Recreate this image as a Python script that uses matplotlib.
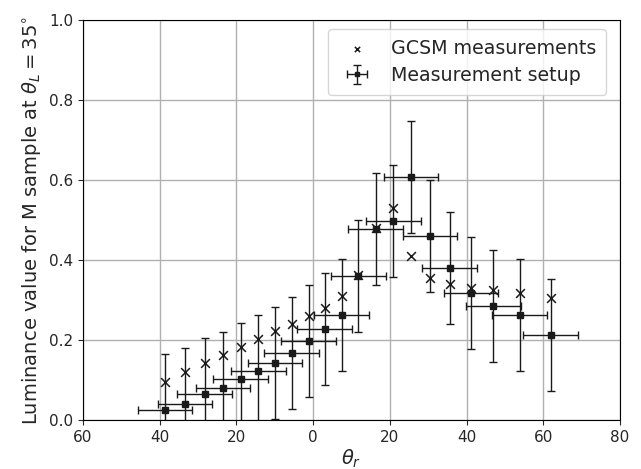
import numpy as np
import matplotlib
matplotlib.use("Agg")
import matplotlib.pyplot as plt
from matplotlib.ticker import FuncFormatter

theta_r = [-38.6, -33.4, -28.3, -23.5, -18.9, -14.3, -9.9, -5.6, -1.2, 3.0, 7.4,
           11.8, 16.3, 20.9, 25.5, 30.5, 35.6, 41.1, 47.0, 53.8, 61.9]
gcsm = [0.096, 0.120, 0.142, 0.163, 0.183, 0.203, 0.222, 0.240, 0.260, 0.281, 0.310,
        0.362, 0.479, 0.531, 0.409, 0.355, 0.340, 0.329, 0.324, 0.317, 0.304]
setup = [0.025, 0.041, 0.066, 0.079, 0.102, 0.122, 0.143, 0.167, 0.1975, 0.2275, 0.262,
         0.359, 0.477, 0.497, 0.607, 0.461, 0.380, 0.318, 0.285, 0.2625, 0.213]
x_err = 7.1
y_err = 0.14

tc = '#262626'
plt.rcParams['text.color'] = tc
plt.rcParams['axes.labelcolor'] = tc
plt.rcParams['xtick.color'] = tc
plt.rcParams['ytick.color'] = tc

fig = plt.figure(figsize=(6.41, 4.69), dpi=100)
ax = fig.add_axes([83/641, 1-420/469, (620-83)/641, 400/469])

ax.scatter(theta_r, gcsm, marker='x', s=40, color='#1a1a1a', linewidths=1.1,
           label='GCSM measurements', zorder=3)
ax.errorbar(theta_r, setup, xerr=x_err, yerr=y_err, fmt='s', color='#1a1a1a',
            markersize=5, elinewidth=1, capsize=3, capthick=1,
            label='Measurement setup', zorder=3)

ax.set_xlim(-60, 80)
ax.set_ylim(0, 1.0)
ax.set_xticks(np.arange(-60, 81, 20))
ax.xaxis.set_major_formatter(FuncFormatter(lambda v, p: f"{abs(int(round(v)))}"))
ax.set_yticks(np.arange(0, 1.01, 0.2))
ax.grid(True, color='#b0b0b0', linewidth=1)
ax.set_axisbelow(True)
ax.tick_params(labelsize=11)
ax.set_xlabel(r'$\theta_r$', fontsize=14, labelpad=2)
ax.set_ylabel(r'Luminance value for M sample at $\theta_L = 35^{\circ}$', fontsize=14)
ax.legend(loc='upper right', fontsize=13.7, markerscale=0.6,
          bbox_to_anchor=(606/641, 1-29/469), bbox_transform=fig.transFigure,
          borderaxespad=0, labelspacing=0.45, borderpad=0.5)

fig.savefig('out.png', dpi=100)
